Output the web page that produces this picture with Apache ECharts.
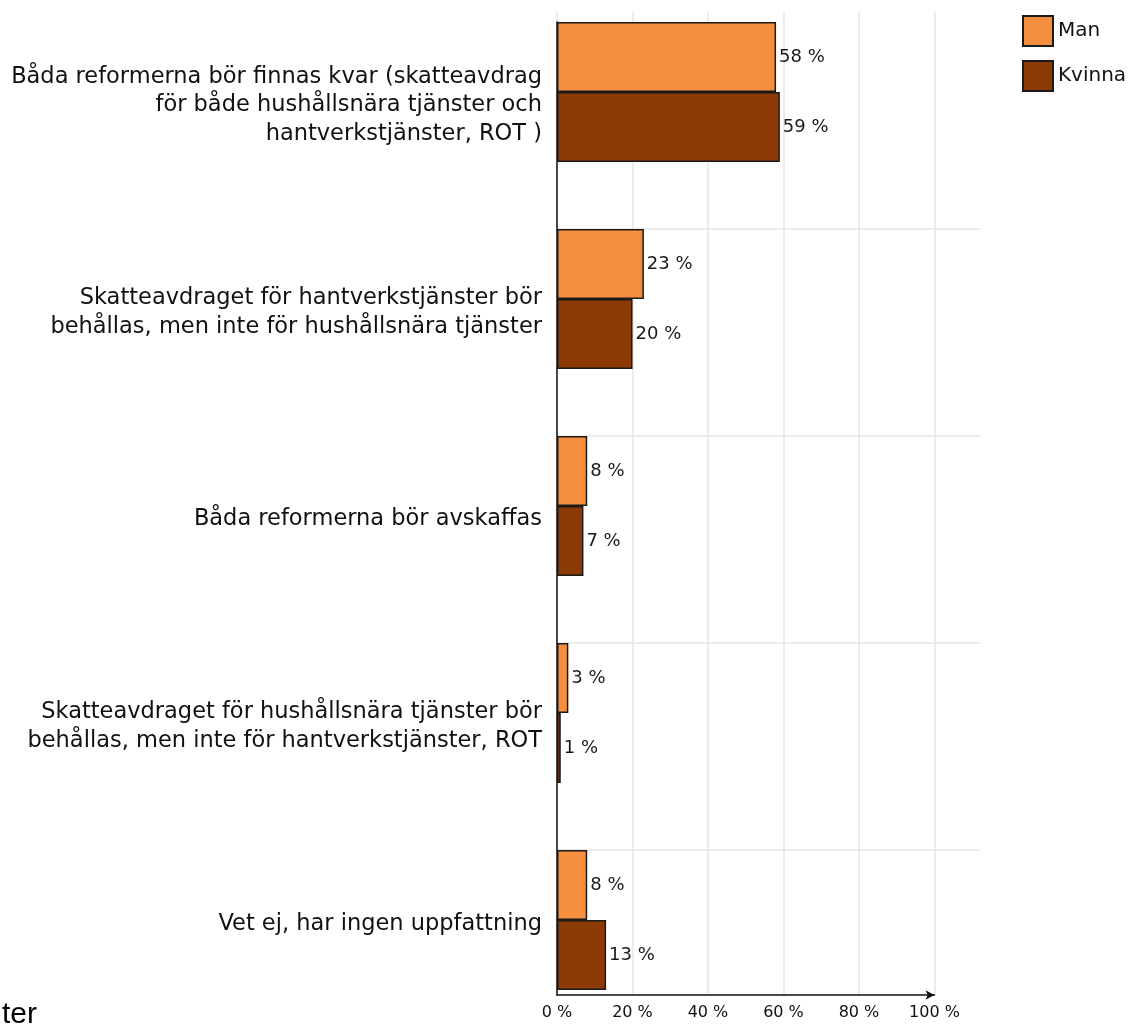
<!DOCTYPE html>
<html>
<head>
<meta charset="utf-8">
<script src="https://cdn.jsdelivr.net/npm/echarts@6/dist/echarts.min.js"></script>
<style>
html,body{margin:0;padding:0;background:#fff;}
#chart{width:1131px;height:1025px;}
</style>
</head>
<body>
<div id="chart"></div>
<script>
var categories = [
  'Båda reformerna bör finnas kvar (skatteavdrag\nför både hushållsnära tjänster och\nhantverkstjänster, ROT )',
  'Skatteavdraget för hantverkstjänster bör\nbehållas, men inte för hushållsnära tjänster',
  'Båda reformerna bör avskaffas',
  'Skatteavdraget för hushållsnära tjänster bör\nbehållas, men inte för hantverkstjänster, ROT',
  'Vet ej, har ingen uppfattning'
];
var seriesNames = ['Man', 'Kvinna'];
var manValues = [58, 23, 8, 3, 8];
var kvinnaValues = [59, 20, 7, 1, 13];
var padValues = [0, 0, 0, 0, 0];
var xMin = 0, xMax = 100, xStep = 20;

var FONT = 'DejaVu Sans';
var chart = echarts.init(document.getElementById('chart'), null, {renderer: 'canvas'});

var labelStyle = {
  show: true, position: 'right', distance: 3,
  fontFamily: FONT, fontSize: 18, color: '#1a1a1a',
  formatter: function (p) { return p.value + ' %'; }
};

chart.setOption({
  animation: false,
  backgroundColor: '#fff',
  title: {
    text: 'ter', left: -3, top: 995,
    textStyle: {fontFamily: 'Liberation Sans', fontSize: 30, fontWeight: 'normal', color: '#000'}
  },
  legend: {
    data: seriesNames,
    orient: 'vertical', left: 1022, top: 15, padding: 0,
    itemWidth: 30, itemHeight: 30, itemGap: 13,
    icon: 'rect',
    textStyle: {fontFamily: FONT, fontSize: 20, color: '#111', padding: [0, 0, 0, 0]}
  },
  grid: [
    {left: 557, right: 151, top: 22, height: 1035, containLabel: false, outerBoundsMode: 'none'},
    {left: 557, right: 196.5, top: 12, bottom: 30, containLabel: false, outerBoundsMode: 'none'},
    {left: 557, right: 151, top: 22, bottom: 30, containLabel: false, outerBoundsMode: 'none'}
  ],
  xAxis: [
    {gridIndex: 0, type: 'value', min: 0, max: 112, show: false, splitLine: {show: false}},
    {
      gridIndex: 1, type: 'value', min: xMin, max: xMax, interval: xStep,
      axisLine: {show: true, symbol: ['none', 'arrow'], symbolSize: [7, 9], lineStyle: {color: '#111', width: 1.5}},
      axisTick: {show: false},
      axisLabel: {fontFamily: FONT, fontSize: 16, color: '#111', margin: 10,
        formatter: function (v) { return v + ' %'; }},
      splitLine: {show: true, lineStyle: {color: '#e6e6e6', width: 1.5}}
    },
    {gridIndex: 2, type: 'value', min: 0, max: 100, show: false, splitLine: {show: false}}
  ],
  yAxis: [
    {
      gridIndex: 0, type: 'category', data: categories, inverse: true,
      axisLine: {show: false}, axisTick: {show: false},
      axisLabel: {
        fontFamily: FONT, fontSize: 22.5, color: '#111', margin: 15, lineHeight: 28.5,
        align: 'right', verticalAlign: 'middle',
        formatter: function (v, i) {
          return v + (i === 4 ? '\n{g4| }' : '\n{g| }');
        },
        rich: {
          g: {height: 40, lineHeight: 40, fontSize: 2},
          g4: {height: 58, lineHeight: 58, fontSize: 2}
        }
      },
      splitLine: {show: true, showMinLine: false, showMaxLine: false, lineStyle: {color: '#e6e6e6', width: 1.5}}
    },
    {gridIndex: 1, type: 'value', show: false, splitLine: {show: false}},
    {
      gridIndex: 2, type: 'value', show: true,
      axisLine: {show: true, lineStyle: {color: '#111', width: 1.5}},
      axisTick: {show: false}, axisLabel: {show: false}, splitLine: {show: false}
    }
  ],
  series: [
    {
      name: seriesNames[0], type: 'bar', xAxisIndex: 0, yAxisIndex: 0,
      data: manValues, barWidth: 70, barGap: '0%', barCategoryGap: '0%',
      itemStyle: {color: '#F58F3F', borderColor: '#1a1a1a', borderWidth: 1.5},
      label: labelStyle, z: 3
    },
    {
      name: seriesNames[1], type: 'bar', xAxisIndex: 0, yAxisIndex: 0,
      data: kvinnaValues, barWidth: 70, barGap: '0%', barCategoryGap: '0%',
      itemStyle: {color: '#8B3A04', borderColor: '#1a1a1a', borderWidth: 1.5},
      label: labelStyle, z: 3
    },
    {
      name: 'pad', type: 'bar', xAxisIndex: 0, yAxisIndex: 0,
      data: padValues, barWidth: 67, barGap: '0%', barCategoryGap: '0%',
      itemStyle: {color: 'rgba(0,0,0,0)'}, silent: true
    }
  ]
});
</script>
</body>
</html>
